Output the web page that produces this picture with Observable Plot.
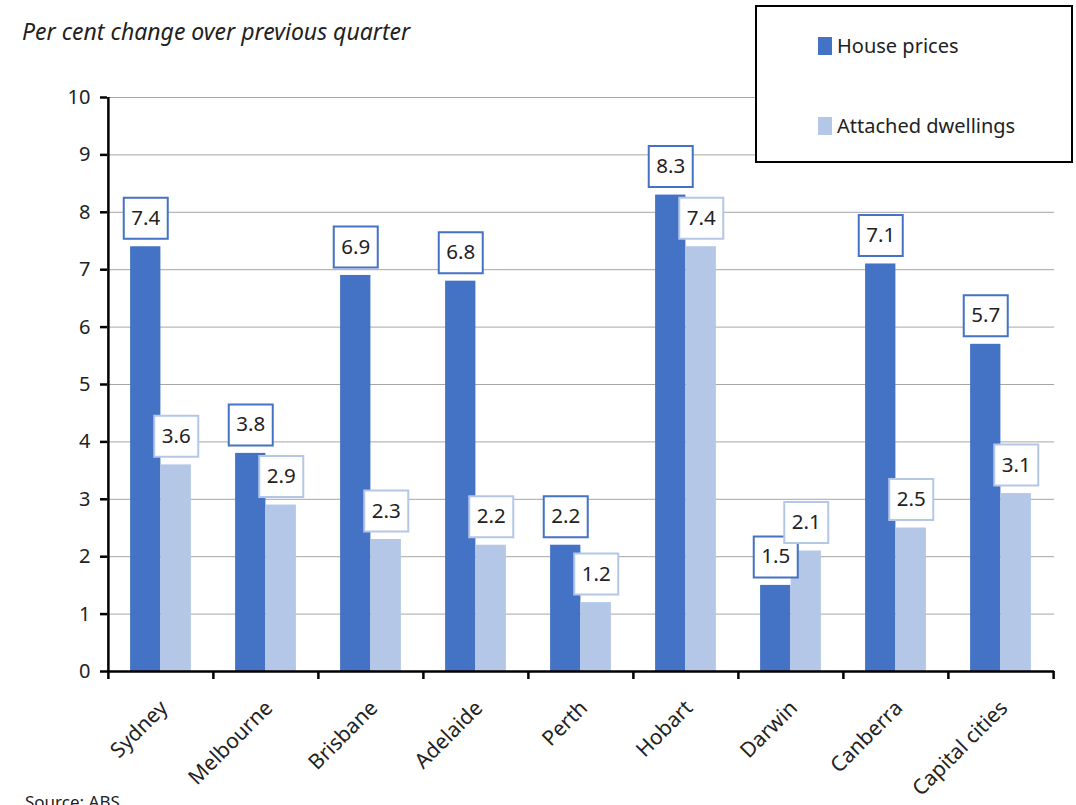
<!DOCTYPE html>
<html>
<head>
<meta charset="utf-8">
<script src="https://cdn.jsdelivr.net/npm/d3@7"></script>
<script src="https://cdn.jsdelivr.net/npm/@observablehq/plot@0.6"></script>
<style>
  body { margin: 0; background: #fff; font-family: "Noto Sans", sans-serif; }
  #wrap { position: relative; width: 1076px; height: 805px; overflow: hidden; background: #fff; }
  #chart { position: absolute; left: 0; top: 0; }
  #title { position: absolute; left: 22px; top: 15px; font-style: italic; font-size: 23px; color: #222; white-space: nowrap; }
  #legend { position: absolute; left: 755px; top: 5px; width: 314px; height: 154px; border: 2px solid #000; background: #fff; }
  .item { position: absolute; left: 61px; display: flex; align-items: center; font-size: 20px; color: #222; white-space: nowrap; }
  .swatch { width: 14px; height: 18px; margin-right: 5px; }
  #source { position: absolute; left: 25px; top: 790px; font-size: 17px; color: #222; white-space: nowrap; }
</style>
</head>
<body>
<div id="wrap">
  <div id="chart"></div>
  <div id="title">Per cent change over previous quarter</div>
  <div id="legend"></div>
  <div id="source">Source: ABS</div>
</div>
<script>
// Quarterly change in residential property prices by capital city
const cities = ["Sydney", "Melbourne", "Brisbane", "Adelaide", "Perth", "Hobart", "Darwin", "Canberra", "Capital cities"];
const housePrices = [7.4, 3.8, 6.9, 6.8, 2.2, 8.3, 1.5, 7.1, 5.7];
const attachedDwellings = [3.6, 2.9, 2.3, 2.2, 1.2, 7.4, 2.1, 2.5, 3.1];
const yTicks = [0, 1, 2, 3, 4, 5, 6, 7, 8, 9, 10];
const seriesNames = ["House prices", "Attached dwellings"];
const seriesColors = ["#4472C4", "#B4C7E7"];

const houseRows = cities.map((city, i) => ({city, value: housePrices[i]}));
const attachedRows = cities.map((city, i) => ({city, value: attachedDwellings[i]}));

const width = 1076, height = 805;
const marginLeft = 107, marginRight = 22, marginTop = 97, marginBottom = 134;
const bw = (width - marginLeft - marginRight) / cities.length;   // band width per city
const outer = bw * 0.21;                                          // gap before/after each pair of bars
const half = bw / 2;
const shift = (half - outer) / 2;                                 // offset of each bar centre from the band centre

// Rectangular value-label box drawn as a dot symbol
const labelBox = {draw(context) { context.rect(-22, -20.5, 44, 41); }};
const boxDy = -28.5;

const fmt = d => d.value.toFixed(1);

const chart = Plot.plot({
  width, height, marginLeft, marginRight, marginTop, marginBottom,
  style: {fontFamily: "'Noto Sans', sans-serif", color: "#222", background: "transparent"},
  x: {domain: cities, padding: 0, axis: null},
  y: {domain: [0, 10], axis: null},
  marks: [
    Plot.ruleY(yTicks.filter(t => t > 0), {stroke: "#A6A6A6", strokeWidth: 1}),
    // grouped bars
    Plot.barY(houseRows, {x: "city", y: "value", fill: seriesColors[0], insetLeft: outer, insetRight: half}),
    Plot.barY(attachedRows, {x: "city", y: "value", fill: seriesColors[1], insetLeft: half, insetRight: outer}),
    // axes
    Plot.ruleY([0], {stroke: "#000", strokeWidth: 2.5}),
    Plot.ruleX([cities[0]], {dx: -half, stroke: "#000", strokeWidth: 2.5}),
    Plot.axisY(yTicks, {label: null, tickSize: 7, tickPadding: 10, fontSize: 20, stroke: "#000", strokeWidth: 2.5, fill: "#222", tickFormat: d => String(d)}),
    Plot.axisX(cities, {label: null, tickSize: 8, dx: -half, stroke: "#000", strokeWidth: 2.5, tickFormat: () => ""}),
    Plot.axisX([cities[cities.length - 1]], {label: null, tickSize: 8, dx: half, stroke: "#000", strokeWidth: 2.5, tickFormat: () => ""}),
    Plot.axisX(cities, {label: null, tickSize: 0, tickPadding: 33, tickRotate: -45, fontSize: 21, fill: "#222", dx: 3}),
    // value labels
    Plot.dot(houseRows, {x: "city", y: "value", dx: -shift, dy: boxDy, symbol: labelBox, fill: "#fff", stroke: seriesColors[0], strokeWidth: 2}),
    Plot.text(houseRows, {x: "city", y: "value", dx: -shift, dy: boxDy, text: fmt, fontSize: 20.5, fill: "#222"}),
    Plot.dot(attachedRows, {x: "city", y: "value", dx: shift, dy: boxDy, symbol: labelBox, fill: "#fff", stroke: seriesColors[1], strokeWidth: 2}),
    Plot.text(attachedRows, {x: "city", y: "value", dx: shift, dy: boxDy, text: fmt, fontSize: 20.5, fill: "#222"})
  ]
});
document.getElementById("chart").appendChild(chart);

// Legend
const legend = document.getElementById("legend");
const legendTops = [25, 105];
seriesNames.forEach((name, i) => {
  const item = document.createElement("div");
  item.className = "item";
  item.style.top = legendTops[i] + "px";
  const sw = document.createElement("span");
  sw.className = "swatch";
  sw.style.background = seriesColors[i];
  const label = document.createElement("span");
  label.textContent = name;
  item.appendChild(sw);
  item.appendChild(label);
  legend.appendChild(item);
});
</script>
</body>
</html>
